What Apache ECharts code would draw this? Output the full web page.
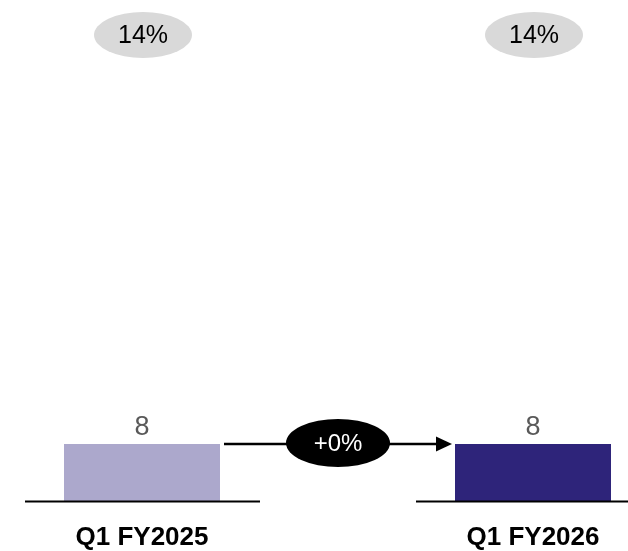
<!DOCTYPE html>
<html>
<head>
<meta charset="utf-8">
<script src="https://cdn.jsdelivr.net/npm/echarts@6/dist/echarts.min.js"></script>
<style>
html,body{margin:0;padding:0;background:#fff;}
#main{width:628px;height:551px;}
</style>
</head>
<body>
<div id="main"></div>
<script>
const categories = ['Q1 FY2025', 'Q1 FY2026'];
const values = [8, 8];
const marginPct = [14, 14];
const barColors = ['#aca8cc', '#2e247a'];

const growth = Math.round((values[1] - values[0]) / values[0] * 100);
const growthLabel = (growth >= 0 ? '+' : '') + growth + '%';

const FONT = '"Liberation Sans", Arial, sans-serif';
const chart = echarts.init(document.getElementById('main'));

function ellipse(cx, cy, rx, ry, color) {
  return {
    type: 'circle',
    x: cx, y: cy, scaleX: rx / ry, scaleY: 1,
    shape: { cx: 0, cy: 0, r: ry },
    style: { fill: color, stroke: null }
  };
}

chart.setOption({
  animation: false,
  backgroundColor: '#ffffff',
  grid: { left: 142, right: 95, top: 387, bottom: 44 },
  xAxis: {
    type: 'category',
    data: categories,
    boundaryGap: false,
    axisLine: { show: false },
    axisTick: { show: false },
    axisLabel: {
      show: true, margin: 24, color: '#000', fontSize: 26, fontWeight: 'bold', fontFamily: FONT
    },
    splitLine: { show: false }
  },
  yAxis: {
    type: 'value', min: 0, max: 16,
    show: false, splitLine: { show: false }
  },
  series: [
    {
      type: 'bar',
      barWidth: 156,
      data: values.map((v, i) => ({ value: v, itemStyle: { color: barColors[i] } })),
      label: {
        show: true, position: 'top', distance: 3,
        color: '#595959', fontSize: 27, fontFamily: FONT
      },
      z: 2
    },
    {
      // baselines under each bar
      type: 'custom',
      data: categories.map((c, i) => [i, 0]),
      encode: { x: 0, y: 1 },
      z: 3,
      renderItem: function (params, api) {
        const p = api.coord([api.value(0), 0]);
        return {
          type: 'line',
          shape: { x1: p[0] - 117, y1: p[1] + 0.5, x2: p[0] + 118, y2: p[1] + 0.5 },
          style: { stroke: '#000', lineWidth: 2 }
        };
      }
    },
    {
      // margin pills at top
      type: 'custom',
      data: marginPct.map((v, i) => [i, 0, v]),
      encode: { x: 0, y: 1 },
      z: 3,
      renderItem: function (params, api) {
        const p = api.coord([api.value(0), 0]);
        const cx = p[0] + 1, cy = 35;
        return {
          type: 'group',
          children: [
            ellipse(cx, cy, 49, 23, '#d9d9d9'),
            {
              type: 'text', x: cx, y: cy + 1,
              style: {
                text: api.value(2) + '%', fill: '#000', font: '25px ' + FONT,
                align: 'center', verticalAlign: 'middle',
                textAlign: 'center', textVerticalAlign: 'middle'
              }
            }
          ]
        };
      }
    },
    {
      // growth arrow
      type: 'custom',
      data: [[0, 0]],
      encode: { x: 0, y: 1 },
      z: 4,
      renderItem: function (params, api) {
        const a = api.coord([0, values[0]]);
        const b = api.coord([1, values[1]]);
        const y = (a[1] + b[1]) / 2;
        const x1 = a[0] + 78 + 4;
        const x2 = b[0] - 77 - 4;
        const mx = (x1 + x2) / 2;
        return {
          type: 'group',
          children: [
            { type: 'line', shape: { x1: x1, y1: y, x2: x2 - 14, y2: y }, style: { stroke: '#000', lineWidth: 2.3 } },
            { type: 'polygon', shape: { points: [[x2 - 16, y - 7.5], [x2, y], [x2 - 16, y + 7.5]] }, style: { fill: '#000' } },
            ellipse(mx, y - 1, 52, 24, '#000'),
            {
              type: 'text', x: mx, y: y,
              style: {
                text: growthLabel, fill: '#fff', font: '24px ' + FONT,
                align: 'center', verticalAlign: 'middle',
                textAlign: 'center', textVerticalAlign: 'middle'
              }
            }
          ]
        };
      }
    }
  ]
});
</script>
</body>
</html>
